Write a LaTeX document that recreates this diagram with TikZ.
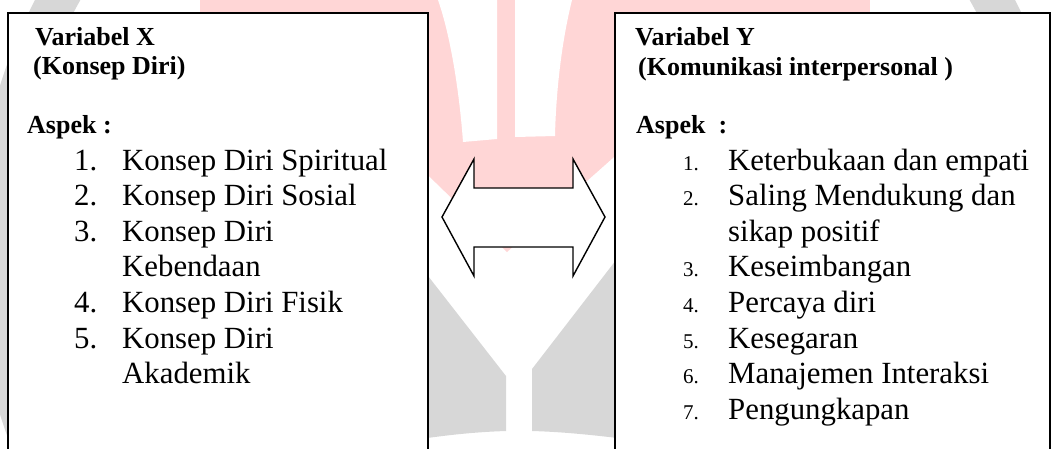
\documentclass[tikz,border=0pt]{standalone}
\usepackage{fontspec}
\setmainfont{Liberation Serif}
\definecolor{wmpink}{HTML}{FFD6D6}
\definecolor{wmgray}{HTML}{D7D7D7}
\begin{document}
\begin{tikzpicture}[x=1pt,y=-1pt,
  boxstyle/.style={draw=black, line width=2pt, fill=white, anchor=north west, inner sep=0pt, minimum height=470pt},
  titletext/.style={anchor=base west, inner sep=0pt, font=\fontsize{26}{30}\selectfont\bfseries},
  itemtext/.style={anchor=base west, inner sep=0pt, font=\fontsize{30.8}{35}\selectfont},
  smallnum/.style={anchor=base west, inner sep=0pt, font=\fontsize{21}{24}\selectfont},
  arrowshape/.style={draw=black, line width=1.4pt, fill=white, line join=miter}]
\useasboundingbox (0,0) rectangle (1051,448);
\clip (0,0) rectangle (1051,448);
% ---- faint watermark ----
\draw[wmgray, line width=40pt] (525,250) circle [radius=530];
\fill[wmpink] (200,0) rectangle (870,14);
\fill[wmpink] (400,0) -- (650,0) -- (650,125) -- (507,252) -- (400,148) -- cycle;
\fill[white] (438,0) .. controls (452,40) and (460,100) .. (463,142) -- (497,139) -- (497,0) -- cycle;
\fill[white] (515,0) -- (515,137) -- (555,136) .. controls (556,90) and (562,40) .. (572,0) -- cycle;
\fill[wmgray] (400,240) -- (506,376) -- (506,431) .. controls (475,432) and (445,435) .. (400,442) -- cycle;
\fill[wmgray] (650,216) -- (532,369) -- (532,431) .. controls (565,432) and (595,435) .. (650,442) -- cycle;
% ---- boxes ----
\node[boxstyle, minimum width=420pt] (boxX) at (7,11.5) {};
\node[boxstyle, minimum width=435pt] (boxY) at (614,11.5) {};
% ---- double arrow ----
\coordinate (aL) at (442,217);
\coordinate (aR) at (605,217);
\draw[arrowshape] (aL) -- (474,159) -- (474,188) -- (573,188) -- (573,159) -- (aR)
  -- (573,276) -- (573,247) -- (474,247) -- (474,276) -- cycle;
% ---- left box text ----
\node[titletext] (tx1) at (35,45) {Variabel X};
\node[titletext] (tx2) at (33,74.5) {(Konsep Diri)};
\node[titletext] (ax) at (27,133) {Aspek :};
\node[itemtext] (xn1) at (74,170) {1.};
\node[itemtext] (xt1) at (122,170) {Konsep Diri Spiritual};
\node[itemtext] (xn2) at (74,205.6) {2.};
\node[itemtext] (xt2) at (122,205.6) {Konsep Diri Sosial};
\node[itemtext] (xn3) at (74,241.2) {3.};
\node[itemtext] (xt3) at (122,241.2) {Konsep Diri};
\node[itemtext] (xt3b) at (122,276.8) {Kebendaan};
\node[itemtext] (xn4) at (74,312.4) {4.};
\node[itemtext] (xt4) at (122,312.4) {Konsep Diri Fisik};
\node[itemtext] (xn5) at (74,348) {5.};
\node[itemtext] (xt5) at (122,348) {Konsep Diri};
\node[itemtext] (xt5b) at (122,383.6) {Akademik};
% ---- right box text ----
\node[titletext] (ty1) at (635,45) {Variabel Y};
\node[titletext] (ty2) at (638,75) {(Komunikasi interpersonal )};
\node[titletext] (ay) at (636,133) {Aspek\ \ :};
\node[smallnum] (yn1) at (683,170) {1.};
\node[itemtext] (yt1) at (728,170) {Keterbukaan dan empati};
\node[smallnum] (yn2) at (683,205.6) {2.};
\node[itemtext] (yt2) at (728,205.6) {Saling Mendukung dan};
\node[itemtext] (yt2b) at (728,241.2) {sikap positif};
\node[smallnum] (yn3) at (683,276.8) {3.};
\node[itemtext] (yt3) at (728,276.8) {Keseimbangan};
\node[smallnum] (yn4) at (683,312.4) {4.};
\node[itemtext] (yt4) at (728,312.4) {Percaya diri};
\node[smallnum] (yn5) at (683,348) {5.};
\node[itemtext] (yt5) at (728,348) {Kesegaran};
\node[smallnum] (yn6) at (683,383.6) {6.};
\node[itemtext] (yt6) at (728,383.6) {Manajemen Interaksi};
\node[smallnum] (yn7) at (683,419.2) {7.};
\node[itemtext] (yt7) at (728,419.2) {Pengungkapan};
\end{tikzpicture}
\end{document}
